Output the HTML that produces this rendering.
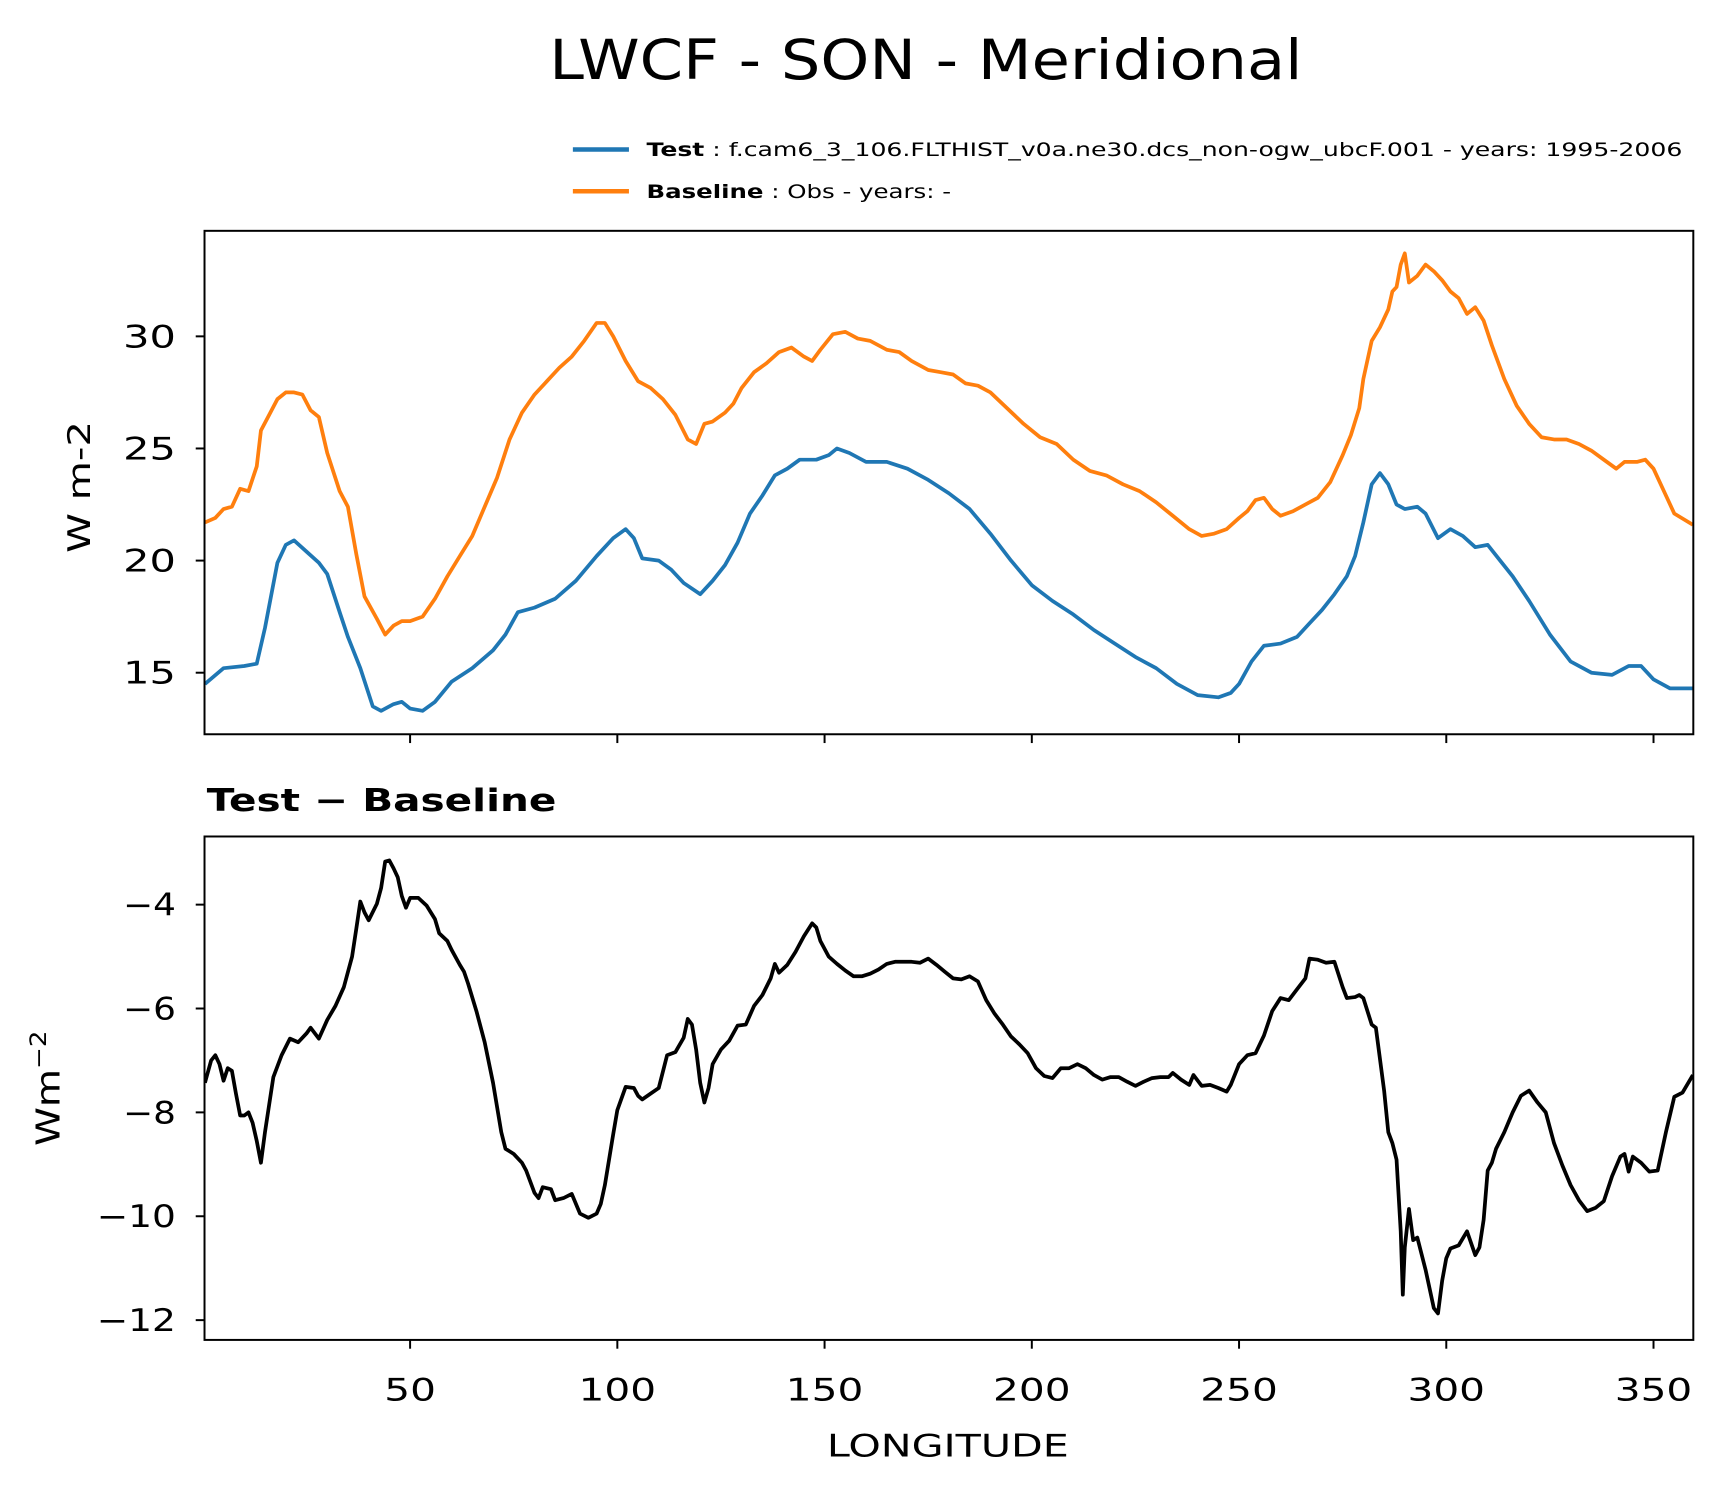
<!DOCTYPE html>
<html><head><meta charset="utf-8">
<style>
html,body{margin:0;padding:0;background:#fff;}
svg{display:block;}
text{font-family:"DejaVu Sans","Liberation Sans",sans-serif;fill:#000;}
</style></head>
<body>
<svg id="chart" width="1723" height="1496" viewBox="0 0 1567 1361" preserveAspectRatio="none" xmlns="http://www.w3.org/2000/svg">
<rect x="0" y="0" width="1567" height="1361" fill="#fff"/>
<text x="842" y="72" font-size="50" text-anchor="middle" textLength="685" lengthAdjust="spacingAndGlyphs">LWCF - SON - Meridional</text>
<g>
 <line x1="521" y1="136" x2="572" y2="136" stroke="#1f77b4" stroke-width="4"/>
 <text x="588" y="142" font-size="17" textLength="942" lengthAdjust="spacingAndGlyphs"><tspan font-weight="bold">Test</tspan> : f.cam6_3_106.FLTHIST_v0a.ne30.dcs_non-ogw_ubcF.001 - years: 1995-2006</text>
 <line x1="521" y1="174" x2="572" y2="174" stroke="#ff7f0e" stroke-width="4"/>
 <text x="588" y="180" font-size="17" textLength="277" lengthAdjust="spacingAndGlyphs"><tspan font-weight="bold">Baseline</tspan> : Obs - years: -</text>
</g>
<g id="top"></g>
<g id="bot"></g>
<text transform="translate(82,443) rotate(-90)" font-size="28" text-anchor="middle" textLength="120" lengthAdjust="spacingAndGlyphs">W m-2</text>
<text transform="translate(54,990) rotate(-90)" font-size="30" text-anchor="middle" textLength="105" lengthAdjust="spacingAndGlyphs">Wm<tspan font-size="20" dy="-12">−2</tspan></text>
<text x="188" y="738" font-size="28" font-weight="bold" textLength="318" lengthAdjust="spacingAndGlyphs">Test − Baseline</text>
<text x="862" y="1325" font-size="28" text-anchor="middle" textLength="220" lengthAdjust="spacingAndGlyphs">LONGITUDE</text>
</svg>
<script>
const testLon=[0.5,5,10,13,15,18,20,22,25,28,30,33,35,38,41,43,46,48,50,53,56,60,65,70,73,76,80,85,90,95,99,102,104,106,110,113,116,120,123,126,129,132,135,138,141,144,148,151,153,156,160,165,170,175,180,185,190,195,200,205,210,215,220,225,230,235,240,245,248,250,253,256,260,264,267,270,273,276,278,280,282,284,286,288,290,293,295,298,301,304,307,310,313,316,320,325,330,335,340,344,347,350,354,359.5];
const testVal=[14.5,15.2,15.3,15.4,17.0,19.9,20.7,20.9,20.4,19.9,19.4,17.7,16.6,15.2,13.5,13.3,13.6,13.7,13.4,13.3,13.7,14.6,15.2,16.0,16.7,17.7,17.9,18.3,19.1,20.2,21.0,21.4,21.0,20.1,20.0,19.6,19.0,18.5,19.1,19.8,20.8,22.1,22.9,23.8,24.1,24.5,24.5,24.7,25.0,24.8,24.4,24.4,24.1,23.6,23.0,22.3,21.2,20.0,18.9,18.2,17.6,16.9,16.3,15.7,15.2,14.5,14.0,13.9,14.1,14.5,15.5,16.2,16.3,16.6,17.2,17.8,18.5,19.3,20.2,21.7,23.4,23.9,23.4,22.5,22.3,22.4,22.1,21.0,21.4,21.1,20.6,20.7,20.0,19.3,18.2,16.7,15.5,15.0,14.9,15.3,15.3,14.7,14.3,14.3];
const baseLon=[0.5,3,5,7,9,11,13,14,16,18,20,22,24,26,28,30,33,35,37,39,42,44,46,48,50,53,56,59,62,65,68,71,74,77,80,83,86,89,92,95,97,99,102,105,108,111,114,117,119,121,123,126,128,130,133,136,139,142,145,147,149,152,155,158,161,165,168,171,175,178,181,184,187,190,194,198,202,206,210,214,218,222,226,230,234,238,241,244,247,250,252,254,256,258,260,263,266,269,272,275,277,279,280,282,284,286,287,288,289,290,291,293,295,297,299,301,303,305,307,309,311,314,317,320,323,326,329,332,335,338,341,343,346,348,350,353,355,359.5];
const baseVal=[21.7,21.9,22.3,22.4,23.2,23.1,24.2,25.8,26.5,27.2,27.5,27.5,27.4,26.7,26.4,24.8,23.1,22.4,20.3,18.4,17.4,16.7,17.1,17.3,17.3,17.5,18.3,19.3,20.2,21.1,22.4,23.7,25.4,26.6,27.4,28.0,28.6,29.1,29.8,30.6,30.6,30.0,28.9,28.0,27.7,27.2,26.5,25.4,25.2,26.1,26.2,26.6,27.0,27.7,28.4,28.8,29.3,29.5,29.1,28.9,29.4,30.1,30.2,29.9,29.8,29.4,29.3,28.9,28.5,28.4,28.3,27.9,27.8,27.5,26.8,26.1,25.5,25.2,24.5,24.0,23.8,23.4,23.1,22.6,22.0,21.4,21.1,21.2,21.4,21.9,22.2,22.7,22.8,22.3,22.0,22.2,22.5,22.8,23.5,24.7,25.6,26.8,28.1,29.8,30.4,31.2,32.0,32.2,33.2,33.7,32.4,32.7,33.2,32.9,32.5,32.0,31.7,31.0,31.3,30.7,29.6,28.1,26.9,26.1,25.5,25.4,25.4,25.2,24.9,24.5,24.1,24.4,24.4,24.5,24.1,22.9,22.1,21.6];
const diffLon=[0.5,2,3,4,5,6,7,8,9,10,11,12,13,14,15,17,19,21,23,25,26,28,30,32,34,36,37,38,39,40,42,43,44,45,46,47,48,49,50,52,54,56,57,59,60,62,63,64,66,68,70,72,73,75,77,78,80,81,82,84,85,87,89,91,93,95,96,97,98,99,100,102,104,105,106,108,110,112,114,116,117,118,119,120,121,122,123,125,127,129,131,133,135,137,138,139,141,143,145,147,148,149,151,153,155,157,159,161,163,165,167,169,171,173,175,177,179,181,183,185,187,189,191,193,195,197,199,201,203,205,207,209,211,213,215,217,219,221,223,225,227,229,231,233,234,236,238,239,241,243,245,247,248,250,252,254,256,258,260,262,264,266,267,269,271,273,275,276,278,279,280,282,283,285,286,287,288,289,289.5,290,291,292,293,295,297,298,299,300,301,303,305,307,308,309,310,311,312,314,316,318,320,322,324,326,328,330,332,334,336,338,340,342,343,344,345,347,349,351,353,355,357,359.5];
const diffVal=[-7.43,-7.0,-6.9,-7.07,-7.39,-7.15,-7.2,-7.64,-8.06,-8.06,-8.0,-8.2,-8.55,-8.97,-8.38,-7.32,-6.9,-6.58,-6.65,-6.48,-6.37,-6.58,-6.22,-5.95,-5.59,-5.0,-4.47,-3.94,-4.15,-4.3,-3.98,-3.68,-3.17,-3.15,-3.3,-3.47,-3.83,-4.06,-3.87,-3.87,-4.02,-4.28,-4.55,-4.7,-4.87,-5.16,-5.29,-5.52,-6.05,-6.65,-7.43,-8.38,-8.7,-8.8,-8.97,-9.12,-9.55,-9.65,-9.44,-9.48,-9.69,-9.65,-9.57,-9.95,-10.03,-9.95,-9.76,-9.4,-8.91,-8.42,-7.96,-7.51,-7.53,-7.68,-7.75,-7.64,-7.53,-6.9,-6.84,-6.56,-6.2,-6.31,-6.79,-7.43,-7.81,-7.53,-7.07,-6.79,-6.62,-6.33,-6.31,-5.95,-5.74,-5.42,-5.14,-5.31,-5.16,-4.91,-4.61,-4.36,-4.44,-4.7,-5.0,-5.14,-5.27,-5.38,-5.38,-5.33,-5.25,-5.14,-5.1,-5.1,-5.1,-5.12,-5.04,-5.16,-5.29,-5.42,-5.44,-5.38,-5.48,-5.84,-6.1,-6.31,-6.54,-6.69,-6.86,-7.15,-7.3,-7.34,-7.15,-7.15,-7.07,-7.15,-7.28,-7.37,-7.32,-7.32,-7.41,-7.49,-7.41,-7.34,-7.32,-7.32,-7.24,-7.37,-7.47,-7.28,-7.49,-7.47,-7.53,-7.6,-7.47,-7.07,-6.9,-6.86,-6.52,-6.05,-5.8,-5.84,-5.63,-5.42,-5.04,-5.06,-5.12,-5.1,-5.59,-5.8,-5.78,-5.74,-5.8,-6.31,-6.37,-7.58,-8.38,-8.59,-8.91,-10.29,-11.51,-10.6,-9.86,-10.46,-10.41,-11.03,-11.77,-11.87,-11.24,-10.81,-10.62,-10.56,-10.29,-10.75,-10.6,-10.07,-9.12,-8.97,-8.7,-8.38,-8.0,-7.68,-7.58,-7.81,-8.0,-8.59,-9.02,-9.4,-9.69,-9.9,-9.84,-9.71,-9.23,-8.85,-8.8,-9.14,-8.85,-8.97,-9.14,-9.12,-8.38,-7.7,-7.62,-7.28];
const xTicks=[50,100,150,200,250,300,350];
const topYTicks=[15,20,25,30];
const botYTicks=[-12,-10,-8,-6,-4];
const botYLabels=["−12","−10","−8","−6","−4"];

const NS="http://www.w3.org/2000/svg";
const L=186,R=1540;
const xMin=0.4,xMax=359.6;
const X=v=>L+(v-xMin)/(xMax-xMin)*(R-L);
function mk(tag,attrs,parent){const e=document.createElementNS(NS,tag);for(const k in attrs)e.setAttribute(k,attrs[k]);parent.appendChild(e);return e;}
function panel(g,top,bot,Y,yt,ylab,showX,name){
  for(let i=0;i<yt.length;i++){
    const y=Y(yt[i]);
    const t=mk('line',{x1:L-8,x2:L,y1:y,y2:y,stroke:'#000','stroke-width':1.8},g);
    
    
    const s=String(ylab[i]);
    const tx=mk('text',{x:L-26,y:y+10,'font-size':28,'text-anchor':'end',textLength:(s.length*24),lengthAdjust:'spacingAndGlyphs'},g);
    tx.textContent=s;
    
    
  }
  for(const v of xTicks){
    const x=X(v);
    const t=mk('line',{x1:x,x2:x,y1:bot,y2:bot+8,stroke:'#000','stroke-width':1.8},g);
    
    
    if(showX){
      const s=String(v);
      const tx=mk('text',{x:x,y:bot+55,'font-size':28,'text-anchor':'middle',textLength:(s.length*23.5),lengthAdjust:'spacingAndGlyphs'},g);
      tx.textContent=s;
      
      
    }
  }
}
function series(g,lon,val,Y,color,name){
  let d='';
  for(let i=0;i<lon.length;i++)d+=(i?'L':'M')+X(lon[i]).toFixed(1)+' '+Y(val[i]).toFixed(1);
  const p=mk('path',{d:d,fill:'none',stroke:color,'stroke-width':3.4,'stroke-linejoin':'round'},g);
  
  
}
function frame(g,top,bot,name){
  const r=mk('rect',{x:L,y:top,width:R-L,height:bot-top,fill:'none',stroke:'#000','stroke-width':1.8},g);
  
  
}
const gt=document.getElementById('top');
const Yt=v=>306-(v-30)*20.4;
const cpT=mk('clipPath',{id:'ct'},gt);mk('rect',{x:L,y:210,width:R-L,height:458},cpT);
const st=mk('g',{'clip-path':'url(#ct)'},gt);
series(st,testLon,testVal,Yt,'#1f77b4','test-line');
series(st,baseLon,baseVal,Yt,'#ff7f0e','baseline-line');
panel(gt,210,668,Yt,topYTicks,topYTicks.map(String),false,'top');
frame(gt,210,668,'top');
const gb=document.getElementById('bot');
const Yb=v=>823-(v+4)*47.25;
const cpB=mk('clipPath',{id:'cb'},gb);mk('rect',{x:L,y:761,width:R-L,height:458},cpB);
const sb=mk('g',{'clip-path':'url(#cb)'},gb);
series(sb,diffLon,diffVal,Yb,'#000','difference-line');
panel(gb,761,1219,Yb,botYTicks,botYLabels,true,'bottom');
frame(gb,761,1219,'bottom');
</script>
</body></html>
